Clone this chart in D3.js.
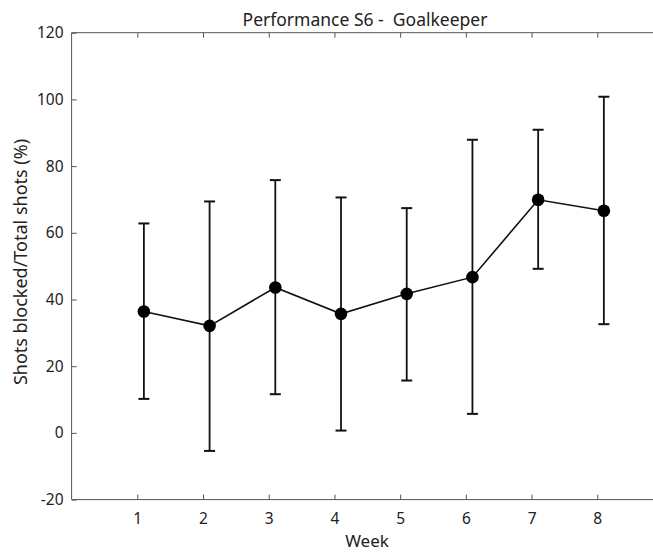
<!DOCTYPE html>
<html><head><meta charset="utf-8">
<script src="https://cdn.jsdelivr.net/npm/d3@7"></script>
<style>body{margin:0;background:#fff;} text{font-family:"Noto Sans",sans-serif;fill:#222;}</style>
</head><body>
<svg id="c" width="653" height="552"></svg>
<script>
const weeks = [1,2,3,4,5,6,7,8];
const meanVals = [36.4, 32.1, 43.6, 35.7, 41.7, 46.7, 69.9, 66.6];
const upperVals = [62.8, 69.4, 75.8, 70.6, 67.4, 87.9, 90.9, 100.8];
const lowerVals = [10.2, -5.4, 11.6, 0.7, 15.7, 5.7, 49.2, 32.6];
const yTicks = [-20, 0, 20, 40, 60, 80, 100, 120];
const xTicks = [1,2,3,4,5,6,7,8];
const pointOffset = 0.1;

const svg = d3.select("#c");
const x = d3.scaleLinear().domain([0, 9]).range([71.6, 663]);
const y = d3.scaleLinear().domain([-20, 120]).range([499.6, 32.7]);
const axisColor = "#555";

// frame
svg.append("line").attr("x1", x(0)).attr("x2", x(9)).attr("y1", y(-20)).attr("y2", y(-20)).attr("stroke", axisColor);
svg.append("line").attr("x1", x(0)).attr("x2", x(9)).attr("y1", y(120)).attr("y2", y(120)).attr("stroke", axisColor);
svg.append("line").attr("x1", x(0)).attr("x2", x(0)).attr("y1", y(-20)).attr("y2", y(120)).attr("stroke", axisColor);

// axes
const xAxis = svg.append("g").attr("transform", `translate(0,${y(-20)})`)
  .call(d3.axisBottom(x).tickValues(xTicks).tickSizeInner(-5).tickSizeOuter(0).tickPadding(13));
xAxis.select(".domain").remove();
xAxis.selectAll("line").attr("stroke", axisColor);
xAxis.selectAll("text").style("font-size", "15.5px").attr("fill", "#222").style("font-family", "'Noto Sans',sans-serif");

const xTop = svg.append("g").attr("transform", `translate(0,${y(120)})`)
  .call(d3.axisTop(x).tickValues(xTicks).tickSizeInner(-5).tickSizeOuter(0).tickFormat(""));
xTop.select(".domain").remove();
xTop.selectAll("line").attr("stroke", axisColor);

const yAxis = svg.append("g").attr("transform", `translate(${x(0)},0)`)
  .call(d3.axisLeft(y).tickValues(yTicks).tickSizeInner(-5).tickSizeOuter(0).tickPadding(8).tickFormat(d => String(d)));
yAxis.select(".domain").remove();
yAxis.selectAll("line").attr("stroke", axisColor);
yAxis.selectAll("text").style("font-size", "15.5px").attr("fill", "#222").style("font-family", "'Noto Sans',sans-serif");

// error bars
const g = svg.append("g");
const capW = 5.5;
weeks.forEach((w, i) => {
  const px = x(w + pointOffset);
  g.append("line").attr("x1", px).attr("x2", px).attr("y1", y(lowerVals[i])).attr("y2", y(upperVals[i]))
    .attr("stroke", "#111").attr("stroke-width", 1.8);
  [lowerVals[i], upperVals[i]].forEach(v => {
    g.append("line").attr("x1", px - capW).attr("x2", px + capW).attr("y1", y(v)).attr("y2", y(v))
      .attr("stroke", "#111").attr("stroke-width", 2);
  });
});

// line
const line = d3.line().x((d, i) => x(weeks[i] + pointOffset)).y(d => y(d));
g.append("path").datum(meanVals).attr("d", line).attr("fill", "none").attr("stroke", "#111").attr("stroke-width", 1.6);

g.selectAll("circle").data(meanVals).join("circle")
  .attr("cx", (d, i) => x(weeks[i] + pointOffset)).attr("cy", d => y(d)).attr("r", 6.3).attr("fill", "#000");

// titles
svg.append("text").attr("x", 365).attr("y", 26).attr("text-anchor", "middle")
  .style("font-size", "17.5px").style("white-space", "pre").text("Performance S6 -  Goalkeeper");
svg.append("text").attr("x", 367).attr("y", 546.5).attr("text-anchor", "middle")
  .style("font-size", "17px").text("Week");
svg.append("text").attr("transform", `translate(27,262) rotate(-90)`).attr("text-anchor", "middle")
  .style("font-size", "18px").text("Shots blocked/Total shots (%)");
</script>
</body></html>
